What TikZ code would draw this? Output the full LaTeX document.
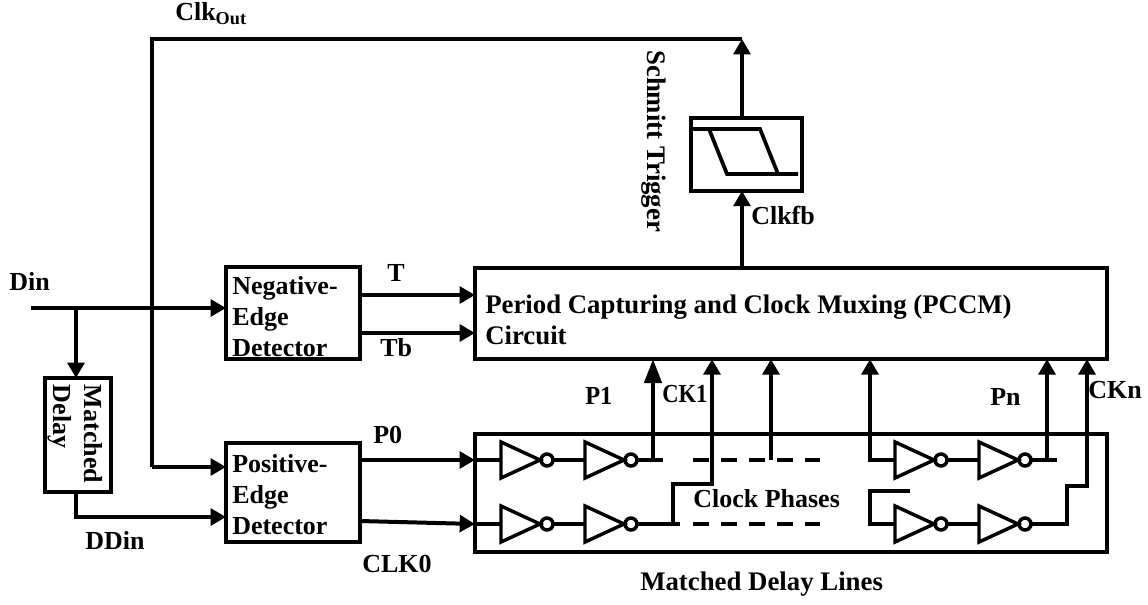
\documentclass[tikz,border=0pt]{standalone}
\usepackage{fontspec}
\setmainfont{Liberation Serif}
\usetikzlibrary{arrows.meta}
\tikzset{
  wire/.style={line width=3pt,line join=miter},
  arr/.style={wire,-{Triangle[length=11.5pt,width=12.5pt]}},
  longarr/.style={wire,-{Triangle[length=18pt,width=13pt]}},
  thinwire/.style={line width=2.6pt},
  dashwire/.style={line width=2.6pt,dash pattern=on 12pt off 9pt},
  box/.style={draw,line width=3pt,inner sep=0pt,outer sep=0pt},
  lbl/.style={font=\fontsize{19.5}{23}\selectfont\bfseries,inner sep=0pt,anchor=base west},
  biglbl/.style={font=\fontsize{20.1}{23}\selectfont\bfseries,inner sep=0pt,anchor=base west},
  boxtext/.style={font=\fontsize{19.5}{23.25}\selectfont\bfseries,inner sep=0pt,align=left},
  pics/invgate/.style={code={
    \draw[thinwire,line join=miter] (0,-18) -- (39,0) -- (0,18) -- cycle;
    \draw[thinwire] (46,0) circle[radius=4.5pt];
    \coordinate (-in) at (0,0);
    \coordinate (-out) at (52,0);
  }}
}
\begin{document}
\begin{tikzpicture}[x=0.75pt,y=-0.75pt]
\useasboundingbox (0,0) rectangle (1148,604);
% boxes
\node[box,minimum width=100.5pt,minimum height=69pt] (neg) at (293,313) {};
\node[box,minimum width=100.5pt,minimum height=74.5pt] (pos) at (293,492.5) {};
\node[box,minimum width=49.5pt,minimum height=85.5pt] (mdel) at (78,435) {};
\node[box,minimum width=474pt,minimum height=68.5pt] (pccm) at (791,313.5) {};
\node[box,minimum width=474pt,minimum height=88.5pt] (lines) at (791,493) {};
\node[box,minimum width=83pt,minimum height=54.5pt] (st) at (746.5,154.5) {};
% box texts
\node[boxtext,anchor=base west] at (232,356) {Negative-\\Edge\\Detector};
\node[boxtext,anchor=base west] at (232,534) {Positive-\\Edge\\Detector};
\node[boxtext,anchor=center,rotate=-90] (mdeltxt) at (75,434) {Matched\\Delay};
\node[biglbl,align=left,font=\fontsize{20.1}{23.25}\selectfont\bfseries] at (485,344) {Period Capturing and Clock Muxing (PCCM)\\Circuit};
\node[biglbl,rotate=-90] at (647,50) {Schmitt Trigger};
% labels
\node[lbl] at (9,290) {Din};
\node[lbl] at (175,20) {Clk\textsubscript{Out}};
\node[lbl] at (387,281) {T};
\node[lbl] at (380,356) {Tb};
\node[lbl] at (373,443) {P0};
\node[lbl] at (362,572) {CLK0};
\node[lbl] at (85,549) {DDin};
\node[lbl] at (585,404) {\scalebox{0.94}[1]{P1}};
\node[lbl] at (662,402) {\scalebox{0.87}[1]{CK1}};
\node[lbl] at (990,405) {Pn};
\node[lbl] at (1088,398) {CKn};
\node[lbl] at (751,224) {Clkfb};
\node[lbl] at (693,507) {Clock Phases};
\node[biglbl] at (640,590) {Matched Delay Lines};
% coordinates
\coordinate (dinstart) at (31,308);
\coordinate (dinsplit) at (76,308);
\coordinate (clkcorner) at (152,39);
\coordinate (clkcornerb) at (152,467);
\coordinate (stouttop) at (742,39);
% inverters
\pic (a) at (501,460) {invgate};
\pic (b) at (585,460) {invgate};
\pic (c) at (501,524) {invgate};
\pic (d) at (585,524) {invgate};
\pic (e) at (895,460) {invgate};
\pic (f) at (979,460) {invgate};
\pic (g) at (895,524) {invgate};
\pic (h) at (979,524) {invgate};
% main wires
\draw[arr] (dinstart) -- (neg.west |- dinstart);
\draw[arr] (dinsplit) -- (mdel.north -| dinsplit);
\draw[wire] (stouttop) -- (clkcorner) -- (clkcornerb);
\draw[arr] (clkcornerb) -- (pos.west |- clkcornerb);
\draw[arr] (st.north -| stouttop) -- (stouttop);
\draw[arr] (pccm.north -| stouttop) -- (st.south -| stouttop);
\draw[arr] (mdel.south -| dinsplit) -- (76,517) -- (pos.west |- 0,517);
\draw[arr] (neg.east |- 0,295) -- (pccm.west |- 0,295);
\draw[arr] (neg.east |- 0,333) -- (pccm.west |- 0,333);
\draw[arr] (pos.east |- 0,460) -- (lines.west |- 0,460);
\draw[arr] (pos.east |- 0,521) -- (lines.west |- 0,524);
% hysteresis
\draw[wire,line width=2.8pt] (st.west |- 0,129) -- (760,129) -- (778,174);
\draw[wire,line width=2.8pt] (709,129) -- (727,174) -- (798,174);
% inner wires
\draw[thinwire] (lines.west |- a-in) -- (a-in);
\draw[thinwire] (a-out) -- (b-in);
\draw[thinwire] (b-out) -- (663,460);
\draw[thinwire] (lines.west |- c-in) -- (c-in);
\draw[thinwire] (c-out) -- (d-in);
\draw[thinwire] (d-out) -- (680,524);
\draw[dashwire] (693,460) -- (820,460);
\draw[dashwire] (693,524) -- (820,524);
\draw[longarr] (653,460) -- (pccm.south -| 653,0);
\draw[arr] (673,524) -- (673,484) -- (712,484) -- (pccm.south -| 712,0);
\draw[arr] (771,460) -- (pccm.south -| 771,0);
\draw[thinwire] (e-out) -- (f-in);
\draw[thinwire] (f-out) -- (1057,460);
\draw[thinwire] (g-out) -- (h-in);
\draw[arr] (e-in) -- (870,460) -- (pccm.south -| 870,0);
\draw[arr] (1047,460) -- (pccm.south -| 1047,0);
\draw[arr] (h-out) -- (1067,524) -- (1067,486) -- (1087,486) -- (pccm.south -| 1087,0);
\draw[thinwire] (g-in) -- (870,524) -- (870,491) -- (910,491);
\end{tikzpicture}
\end{document}
